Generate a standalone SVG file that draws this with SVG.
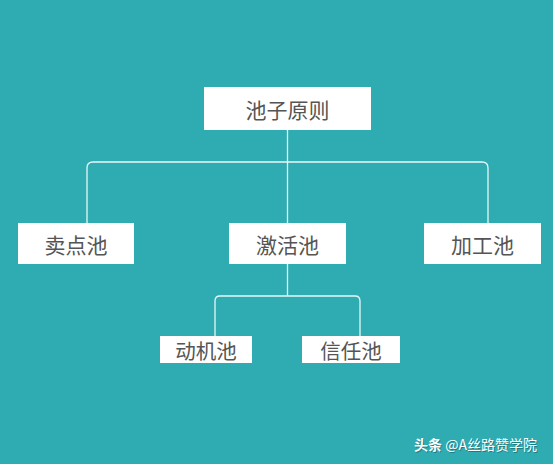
<svg xmlns="http://www.w3.org/2000/svg" width="553" height="464" viewBox="0 0 553 464">
<style>
.box{fill:#ffffff}
.t{font-family:"Noto Sans CJK SC","Liberation Sans",sans-serif;font-size:21px;fill:#555555;text-anchor:middle;dominant-baseline:central}
.s{font-size:20.5px}
.c{fill:none;stroke:#e6f7f7;stroke-width:1.3}
.wm{font-family:"Noto Sans CJK SC","Liberation Sans",sans-serif;font-size:14px;fill:#ffffff}
</style>
<rect width="553" height="464" fill="#2eacb2"/>
<g id="connectors">
<path class="c" d="M287.5 130 V224"/>
<path class="c" d="M87 224 V168 Q87 162 93 162 H482 Q488 162 488 168 V224"/>
<path class="c" d="M287.5 264 V296"/>
<path class="c" d="M215 336 V301 Q215 296 220 296 H355 Q360 296 360 301 V336"/>
</g>
<g id="root"><rect class="box" x="204" y="87" width="167" height="43"/><text class="t" x="287.5" y="108.5">池子原则</text></g>
<g id="maidian"><rect class="box" x="18" y="223" width="116" height="41"/><text class="t" x="76" y="243.5">卖点池</text></g>
<g id="jihuo"><rect class="box" x="229" y="223" width="117" height="41"/><text class="t" x="287.5" y="243.5">激活池</text></g>
<g id="jiagong"><rect class="box" x="424" y="223" width="117" height="41"/><text class="t" x="482.5" y="243.5">加工池</text></g>
<g id="dongji"><rect class="box" x="160" y="336" width="92" height="27"/><text class="t s" x="206" y="349.5">动机池</text></g>
<g id="xinren"><rect class="box" x="302" y="336" width="98" height="27"/><text class="t s" x="351" y="349.5">信任池</text></g>
<g id="watermark">
<text class="wm" x="414" y="450" fill-opacity="0.3" style="fill:#000" dx="1" dy="1"><tspan font-weight="bold">头条</tspan> @A丝路赞学院</text>
<text class="wm" x="414" y="450"><tspan font-weight="bold">头条</tspan> @A丝路赞学院</text>
</g>
</svg>
